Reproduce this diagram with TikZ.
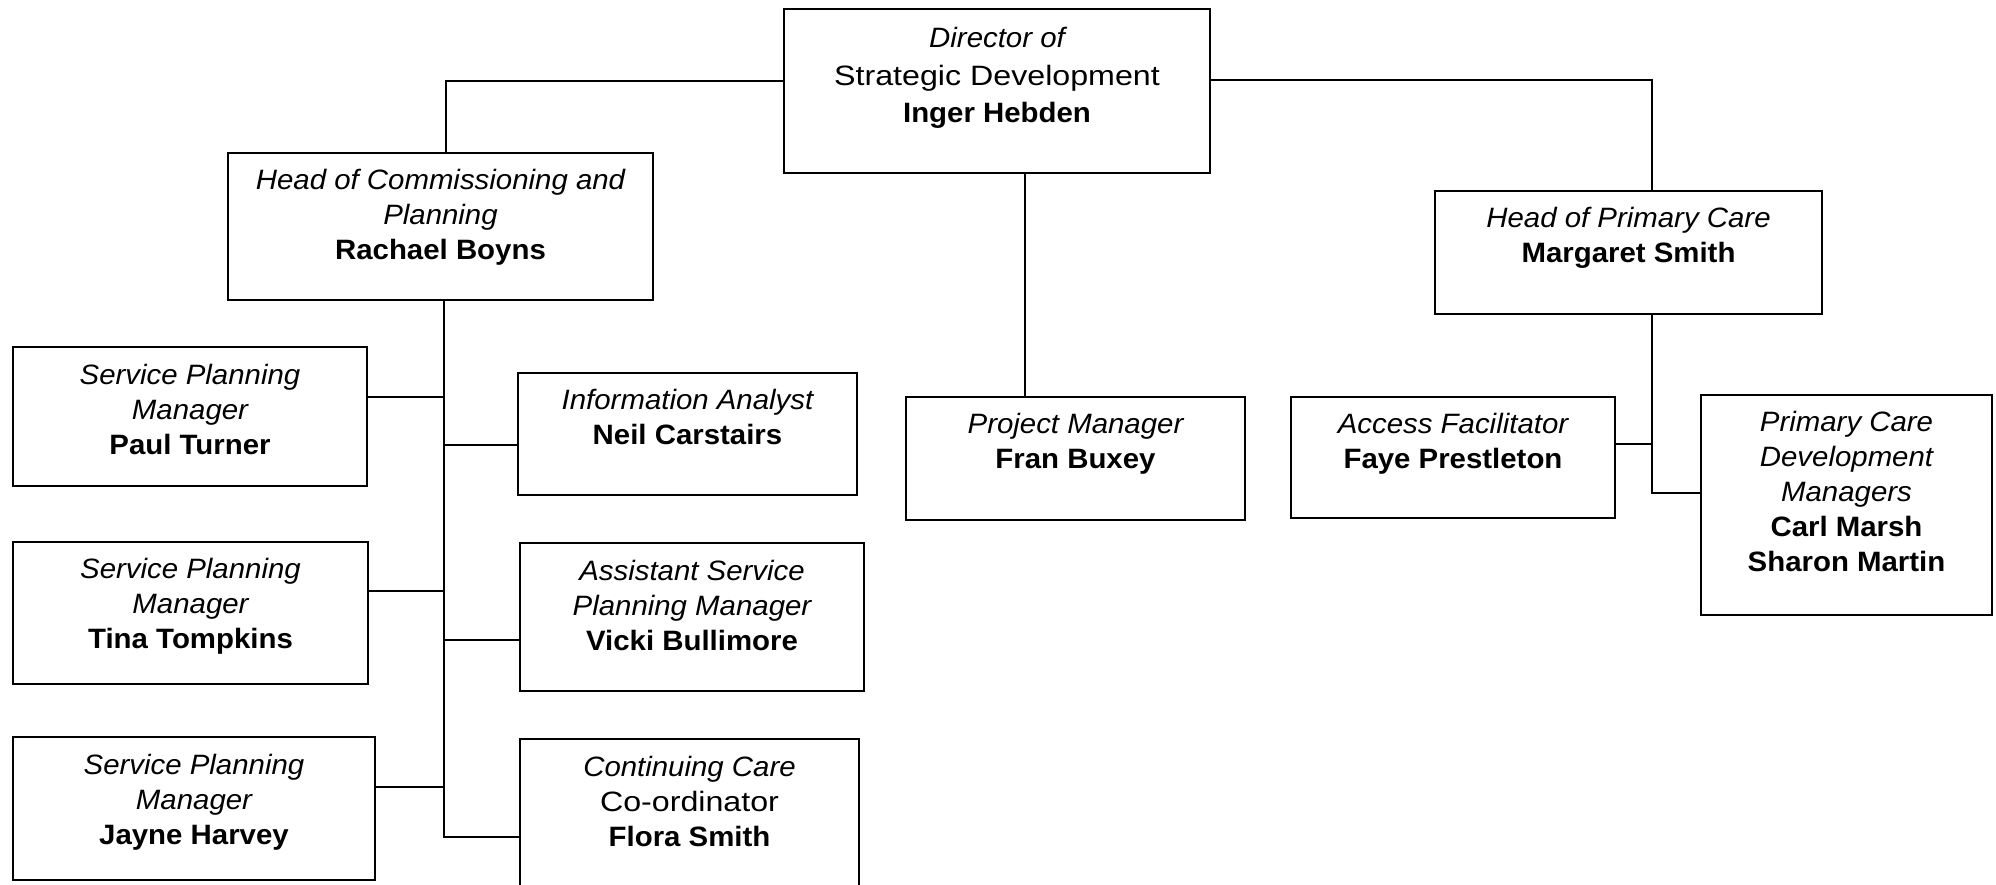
\documentclass[tikz,border=0pt]{standalone}
\usepackage{fontspec}
\setmainfont{Liberation Sans}[
  UprightFeatures={FakeStretch=1.15},
  ItalicFeatures={FakeStretch=1.05},
  BoldFeatures={FakeStretch=1.05},
  BoldItalicFeatures={FakeStretch=1.05}]
\begin{document}
\begin{tikzpicture}[x=0.5pt,y=-0.5pt,
  box/.style={draw=black, line width=0.9pt, inner sep=0pt, fill=white},
  txt/.style={anchor=north, inner sep=0pt, align=center, font=\fontsize{14pt}{17.5pt}\selectfont},
  conn/.style={draw=black, line width=0.9pt}]
\useasboundingbox (0,0) rectangle (1996,884);
\fill[white] (0,0) rectangle (1996,884);

% boxes
\node[box, minimum width=213pt, minimum height=82pt] (dir) at (997,91) {};
\node[box, minimum width=212.5pt, minimum height=73.5pt] (rach) at (440.5,226.5) {};
\node[box, minimum width=193.5pt, minimum height=61.5pt] (marg) at (1628.5,252.5) {};
\node[box, minimum width=177pt, minimum height=69.5pt] (paul) at (190,416.5) {};
\node[box, minimum width=169.5pt, minimum height=61pt] (neil) at (687.5,434) {};
\node[box, minimum width=169.5pt, minimum height=61.5pt] (fran) at (1075.5,458.5) {};
\node[box, minimum width=162pt, minimum height=60.5pt] (acc) at (1453,457.5) {};
\node[box, minimum width=145.5pt, minimum height=110pt] (pcdm) at (1846.5,505) {};
\node[box, minimum width=177.5pt, minimum height=71pt] (tina) at (190.5,613) {};
\node[box, minimum width=172pt, minimum height=74pt] (vicki) at (692,617) {};
\node[box, minimum width=181pt, minimum height=71.5pt] (jayne) at (194,808.5) {};
\node[box, minimum width=169.5pt, minimum height=90.5pt] (flora) at (689.5,829.5) {};

% texts
\node[txt, font=\fontsize{14pt}{18.7pt}\selectfont] (tdir) at (997,27) {\itshape Director of\\Strategic Development\\\bfseries Inger Hebden};
\node[txt] (track) at (440.5,169) {\itshape Head of Commissioning and\\\itshape Planning\\\bfseries Rachael Boyns};
\node[txt] (tmarg) at (1628.5,207) {\itshape Head of Primary Care\\\bfseries Margaret Smith};
\node[txt] (tpaul) at (190,364) {\itshape Service Planning\\\itshape Manager\\\bfseries Paul Turner};
\node[txt] (tneil) at (687.5,389) {\itshape Information Analyst\\\bfseries Neil Carstairs};
\node[txt] (tfran) at (1075.5,413) {\itshape Project Manager\\\bfseries Fran Buxey};
\node[txt] (tacc) at (1453,413) {\itshape Access Facilitator\\\bfseries Faye Prestleton};
\node[txt] (tpcdm) at (1846.5,411) {\itshape Primary Care\\\itshape Development\\\itshape Managers\\\bfseries Carl Marsh\\\bfseries Sharon Martin};
\node[txt] (ttina) at (190.5,558) {\itshape Service Planning\\\itshape Manager\\\bfseries Tina Tompkins};
\node[txt] (tvicki) at (692,560) {\itshape Assistant Service\\\itshape Planning Manager\\\bfseries Vicki Bullimore};
\node[txt] (tjayne) at (194,754) {\itshape Service Planning\\\itshape Manager\\\bfseries Jayne Harvey};
\node[txt] (tflora) at (689.5,756) {\itshape Continuing Care\\Co-ordinator\\\bfseries Flora Smith};

% junction coordinates
\coordinate (jL) at (446,81);
\coordinate (jR) at (1652,80);
\coordinate (jM) at (1025,173);
\coordinate (bP) at (444,397);
\coordinate (bN) at (444,445);
\coordinate (bT) at (444,591);
\coordinate (bV) at (444,640);
\coordinate (bJ) at (444,787);
\coordinate (bF) at (444,837);
\coordinate (mA) at (1652,444);
\coordinate (mP) at (1652,493);

% connectors
\draw[conn] (dir.west |- jL) -- (jL) -- (rach.north -| jL);
\draw[conn] (dir.east |- jR) -- (jR) -- (marg.north -| jR);
\draw[conn] (dir.south -| jM) -- (fran.north -| jM);
\draw[conn] (rach.south -| bF) -- (bF) -- (flora.west |- bF);
\draw[conn] (paul.east |- bP) -- (bP);
\draw[conn] (bN) -- (neil.west |- bN);
\draw[conn] (tina.east |- bT) -- (bT);
\draw[conn] (bV) -- (vicki.west |- bV);
\draw[conn] (jayne.east |- bJ) -- (bJ);
\draw[conn] (marg.south -| mP) -- (mP) -- (pcdm.west |- mP);
\draw[conn] (acc.east |- mA) -- (mA);
\end{tikzpicture}
\end{document}
